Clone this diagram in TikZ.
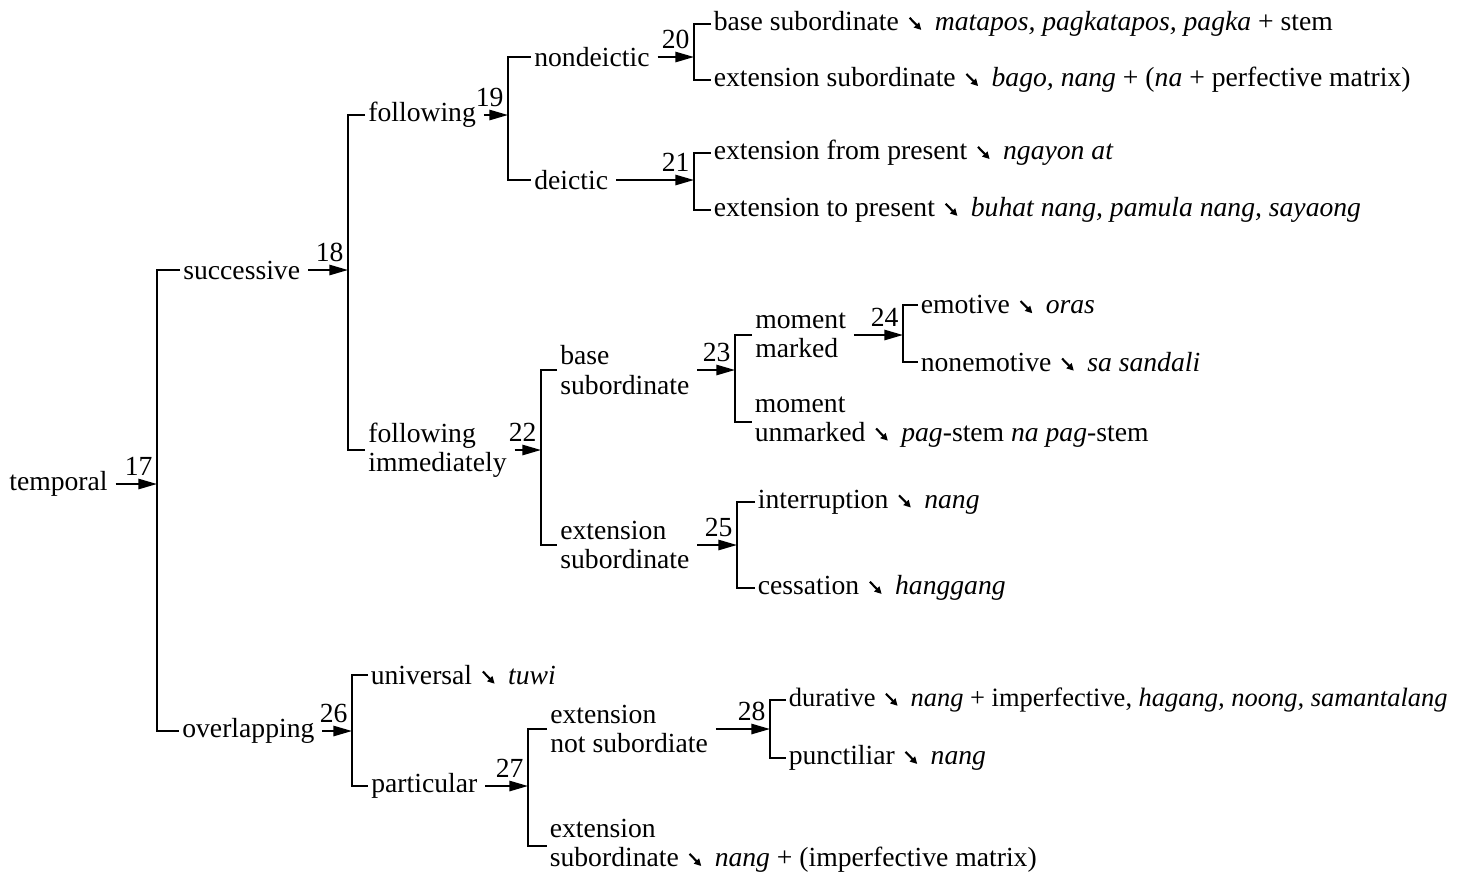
\documentclass[tikz,border=0pt]{standalone}
\usepackage{fontspec}
\setmainfont{Liberation Serif}
\usetikzlibrary{positioning, arrows.meta}

% small realization arrow used inside the labels
\newcommand{\realiz}{\hspace{0.35em}\tikz[baseline=0pt]\draw[line width=0.9pt,-{Triangle[length=3pt,width=3pt]}] (0pt,5.5pt) -- (5pt,0.3pt);\hspace{0.45em}}

\begin{document}
\begin{tikzpicture}[x=0.015cm, y=-0.015cm, line width=0.85pt,
	lbl/.style={anchor=west, align=left, inner xsep=1pt, inner ysep=1pt, font=\fontsize{11.8}{12.4}\selectfont},
	num/.style={inner sep=0pt, font=\fontsize{11.8}{12.4}\selectfont},
	arr/.style={-{Triangle[length=8pt,width=4.4pt]}, shorten <=2pt}]
	\useasboundingbox (0,0) rectangle (1468,874);

	% labels of the network
	\node[lbl] (temporal) at (6,484) {temporal};
	\node[lbl] (successive) at (180,270) {successive};
	\node[lbl] (overlapping) at (179,731) {overlapping};
	\node[lbl] (following) at (365,115) {following};
	\node[lbl] (followImm) at (365,450) {following\\immediately};
	\node[lbl] (nondeictic) at (531,57) {nondeictic};
	\node[lbl] (deictic) at (531,180) {deictic};
	\node[lbl] (baseSubA) at (711,24) {base subordinate\realiz\textit{matapos, pagkatapos, pagka} + stem};
	\node[lbl] (extSubA) at (711,80) {extension subordinate\realiz\textit{bago, nang} + (\textit{na} + perfective matrix)};
	\node[lbl] (extFrom) at (711,153) {extension from present\realiz\textit{ngayon at}};
	\node[lbl] (extTo) at (711,210) {extension to present\realiz\textit{buhat nang, pamula nang, sayaong}};
	\node[lbl] (baseSubB) at (557,370) {base\\subordinate};
	\node[lbl] (extSubB) at (557,545) {extension\\subordinate};
	\node[lbl] (momMarked) at (752,335) {moment\\marked};
	\node[lbl] (momUnmarked) at (752,422) {moment\\unmarked\realiz\textit{pag}-stem \textit{na pag}-stem};
	\node[lbl] (emotive) at (918,305) {emotive\realiz\textit{oras}};
	\node[lbl] (nonemotive) at (918,362) {nonemotive\realiz\textit{sa sandali}};
	\node[lbl] (interruption) at (755,502) {interruption\realiz\textit{nang}};
	\node[lbl] (cessation) at (755,588) {cessation\realiz\textit{hanggang}};
	\node[lbl] (universal) at (368,675) {universal\realiz\textit{tuwi}};
	\node[lbl] (particular) at (368,786) {particular};
	\node[lbl] (extNotSub) at (547,729) {extension\\not subordiate};
	\node[lbl] (extSubC) at (547,846) {extension\\subordinate\realiz\textit{nang} + (imperfective matrix)};
	\node[lbl, font=\fontsize{11.3}{12.4}\selectfont] (durative) at (786,700) {durative\realiz\textit{nang} + imperfective, \textit{hagang, noong, samantalang}};
	\node[lbl] (punctiliar) at (786,758) {punctiliar\realiz\textit{nang}};

	% brackets: parent / x / upper / lower / number
	\foreach \p/\x/\t/\b/\n in {temporal/157/successive/overlapping/17,
		successive/348/following/followImm/18,
		following/508/nondeictic/deictic/19,
		nondeictic/694/baseSubA/extSubA/20,
		deictic/694/extFrom/extTo/21,
		followImm/541/baseSubB/extSubB/22,
		baseSubB/735/momMarked/momUnmarked/23,
		momMarked/903/emotive/nonemotive/24,
		extSubB/737/interruption/cessation/25,
		overlapping/352/universal/particular/26,
		particular/528/extNotSub/extSubC/27,
		extNotSub/770/durative/punctiliar/28} {
		\coordinate (b\n) at (\x,0);
		\draw (\t.west) -- (\t.west -| b\n) -- (\b.west -| b\n) -- (\b.west);
		\draw[arr] (\p.east) -- (\p.east -| b\n) coordinate (e\n);
		\node[num, above left=3pt and 1.5pt of e\n] (n\n) {\n};
	};
\end{tikzpicture}
\end{document}
